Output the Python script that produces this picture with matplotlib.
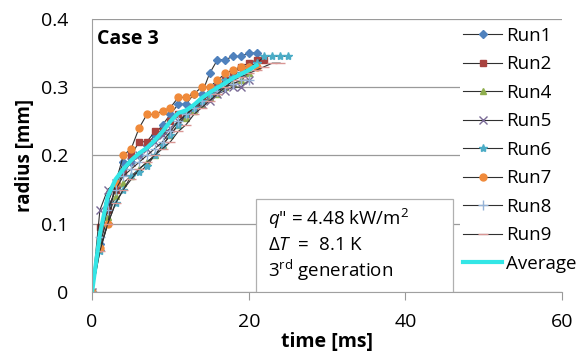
import numpy as np
from matplotlib import pyplot as plt
from matplotlib.patches import Rectangle

plt.rcParams['font.family'] = ['Open Sans', 'DejaVu Sans']
plt.rcParams['mathtext.fontset'] = 'custom'
plt.rcParams['mathtext.rm'] = 'Open Sans'
plt.rcParams['mathtext.it'] = 'Open Sans:italic'

## Bubble radius vs time for each run [ms], [mm]
t_run1 = [0, 1, 2, 3, 4, 5, 6, 7, 8, 9, 10, 11, 12, 13, 14, 15, 16, 17, 18, 19, 20, 21]
r_run1 = [0, 0.07, 0.13, 0.16, 0.19, 0.19, 0.20, 0.215, 0.23, 0.245, 0.26, 0.275, 0.275,
          0.29, 0.29, 0.32, 0.34, 0.34, 0.345, 0.345, 0.35, 0.35]
t_run2 = [0, 1, 2, 3, 4, 5, 6, 7, 8, 9, 10, 11, 12, 13, 14, 15, 16, 17, 18, 19, 20, 21, 22]
r_run2 = [0, 0.095, 0.12, 0.15, 0.175, 0.20, 0.22, 0.22, 0.235, 0.235, 0.25, 0.26, 0.26,
          0.27, 0.28, 0.29, 0.30, 0.31, 0.32, 0.33, 0.335, 0.34, 0.34]
t_run4 = [0, 1, 2, 3, 4, 5, 6, 7, 8, 9, 10, 11, 12, 13, 14, 15, 16, 17, 18, 19, 20]
r_run4 = [0, 0.07, 0.11, 0.14, 0.16, 0.17, 0.18, 0.19, 0.20, 0.215, 0.23, 0.245, 0.255,
          0.265, 0.275, 0.285, 0.29, 0.30, 0.305, 0.31, 0.32]
t_run5 = [0, 1, 2, 3, 4, 5, 6, 7, 8, 9, 10, 11, 12, 13, 14, 15, 16, 17, 18, 19, 20]
r_run5 = [0, 0.12, 0.15, 0.16, 0.175, 0.19, 0.20, 0.21, 0.22, 0.23, 0.24, 0.25, 0.26,
          0.27, 0.275, 0.28, 0.29, 0.295, 0.30, 0.30, 0.31]
t_run6 = [0, 1, 2, 3, 4, 5, 6, 7, 8, 9, 10, 11, 12, 13, 14, 15, 16, 17, 18, 19, 20, 21,
          22, 23, 24, 25]
r_run6 = [0, 0.06, 0.10, 0.13, 0.15, 0.17, 0.175, 0.185, 0.20, 0.215, 0.23, 0.245, 0.26,
          0.27, 0.28, 0.29, 0.30, 0.31, 0.315, 0.32, 0.33, 0.335, 0.345, 0.345, 0.345, 0.345]
t_run7 = [0, 1, 2, 3, 4, 5, 6, 7, 8, 9, 10, 11, 12, 13, 14, 15, 16, 17, 18, 19, 20, 21]
r_run7 = [0, 0.065, 0.10, 0.16, 0.20, 0.21, 0.24, 0.26, 0.26, 0.265, 0.27, 0.285, 0.285,
          0.29, 0.30, 0.30, 0.31, 0.32, 0.325, 0.33, 0.33, 0.33]
t_run8 = [0, 1, 2, 3, 4, 5, 6, 7, 8, 9, 10, 11, 12, 13, 14, 15, 16, 17, 18, 19, 20]
r_run8 = [0, 0.08, 0.12, 0.15, 0.17, 0.18, 0.19, 0.20, 0.21, 0.22, 0.235, 0.25, 0.26,
          0.27, 0.28, 0.29, 0.295, 0.30, 0.305, 0.31, 0.31]
t_run9 = [0, 1, 2, 3, 4, 5, 6, 7, 8, 9, 10, 11, 12, 13, 14, 15, 16, 17, 18, 19, 20, 21,
          22, 23, 24]
r_run9 = [0, 0.06, 0.10, 0.13, 0.15, 0.165, 0.18, 0.19, 0.20, 0.21, 0.22, 0.235, 0.245,
          0.26, 0.27, 0.28, 0.29, 0.30, 0.31, 0.315, 0.32, 0.325, 0.33, 0.335, 0.335]
t_avg = [0, 1, 2, 3, 4, 5, 6, 7, 8, 9, 10, 11, 12, 13, 14, 15, 16, 17, 18, 19, 20, 21]
r_avg = [0, 0.085, 0.14, 0.165, 0.18, 0.193, 0.203, 0.211, 0.222, 0.235, 0.25, 0.262,
         0.266, 0.274, 0.284, 0.292, 0.299, 0.306, 0.313, 0.319, 0.325, 0.332]

info_lines = ['$\\mathit{q}$" = 4.48 kW/m$^2$',
              "$\\mathit{\\Delta T}$  =  8.1 K",
              "3$^{\\rm rd}$ generation"]

runs = [('Run1', t_run1, r_run1, 'D', '#4f81bd', 4),
        ('Run2', t_run2, r_run2, 's', '#a8423f', 5),
        ('Run4', t_run4, r_run4, '^', '#8fae4e', 5),
        ('Run5', t_run5, r_run5, 'x', '#7a6a96', 6),
        ('Run6', t_run6, r_run6, '*', '#4bacc6', 6),
        ('Run7', t_run7, r_run7, 'o', '#f08a3a', 5),
        ('Run8', t_run8, r_run8, '+', '#95b3d7', 7),
        ('Run9', t_run9, r_run9, '_', '#d99694', 7)]

fig = plt.figure(figsize=(5.79, 3.61), dpi=100)
ax = fig.add_axes([0.159, 0.191, 0.812, 0.757])

for name, t, r, m, c, ms in runs:
    ax.plot(t, r, color='#303030', linewidth=0.8, marker=m, markersize=ms,
            markerfacecolor=c, markeredgecolor=c, label=name)
ax.plot(t_avg, r_avg, color='#33e6e6', linewidth=3, label='Average')

ax.set_xlim(0, 60)
ax.set_ylim(0, 0.4)
ax.set_xticks([0, 20, 40, 60])
ax.set_yticks([0, 0.1, 0.2, 0.3, 0.4])
ax.set_yticklabels(['0', '0.1', '0.2', '0.3', '0.4'])
ax.tick_params(labelsize=14, colors='#000000')
ax.tick_params(axis='x', length=6, color='#999999', pad=9)
ax.tick_params(axis='y', length=0, pad=17)
ax.grid(axis='y', color='#9a9a9a', linewidth=0.9)
ax.set_axisbelow(True)
for s in ['top', 'right']:
    ax.spines[s].set_visible(False)
for s in ['left', 'bottom']:
    ax.spines[s].set_color('#a0a0a0')
ax.set_xlabel('time [ms]', fontsize=14, fontweight='bold', labelpad=1)
ax.set_ylabel('radius [mm]', fontsize=13.5, fontweight='bold', labelpad=4)

ax.text(0.65, 0.363, 'Case 3', fontsize=14, fontweight='bold', va='baseline')

# annotation box
ax.add_patch(Rectangle((20.9, 0.0), 25.2, 0.136, facecolor='white',
                       edgecolor='#b0b0b0', linewidth=0.9, zorder=4))
for i, line in enumerate(info_lines):
    ax.text(22.5, 0.107 - i * 0.038, line, fontsize=13.5, va='center', zorder=5)

leg = ax.legend(loc='upper left', bbox_to_anchor=(0.795, 0.934),
                bbox_transform=fig.transFigure, fontsize=13.5, frameon=True,
                handlelength=2.1, handletextpad=0.2, labelspacing=0.56,
                borderaxespad=0, borderpad=0.15, fancybox=False)
leg.get_frame().set_facecolor('white')
leg.get_frame().set_edgecolor('none')
leg.get_frame().set_alpha(1)

fig.savefig('out.png', dpi=100)
